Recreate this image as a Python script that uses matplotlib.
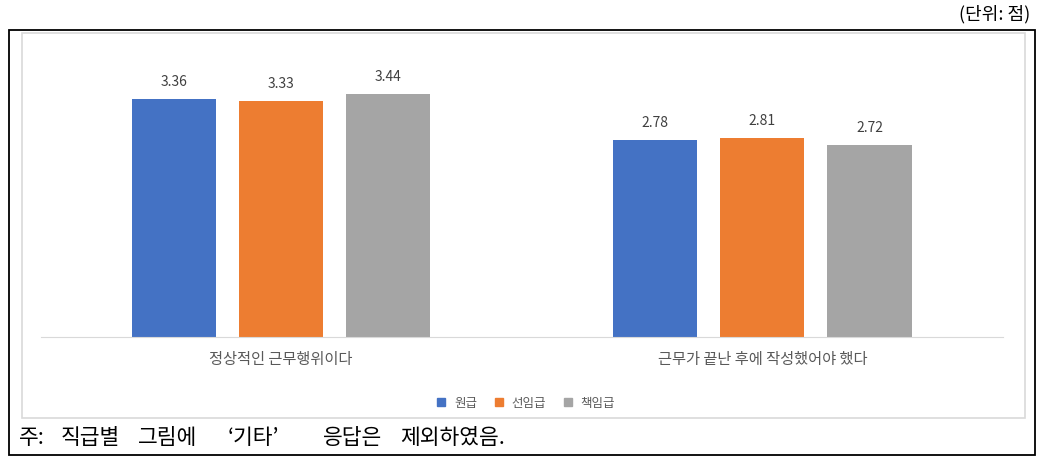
import matplotlib.pyplot as plt
from matplotlib.patches import Rectangle
from matplotlib.lines import Line2D
import numpy as np

plt.rcParams["font.family"] = ["Noto Sans CJK KR", "DejaVu Sans"]

categories = ["정상적인 근무행위이다", "근무가 끝난 후에 작성했어야 했다"]
series = ["원급", "선임급", "책임급"]
values_won = [3.36, 2.78]
values_sun = [3.33, 2.81]
values_chk = [3.44, 2.72]
colors = ["#4472C4", "#ED7D31", "#A5A5A5"]
note_words = ["주:", "직급별", "그림에", "‘기타’", "응답은", "제외하였음."]

W, H = 1041, 466


def fx(px):
    return px / W


def fy(py):
    return 1 - py / H


fig = plt.figure(figsize=(W / 100, H / 100), dpi=100)

# outer black frame and inner chart border
fig.patches.append(Rectangle((fx(9), fy(455)), fx(1035) - fx(9), fy(30) - fy(455),
                             transform=fig.transFigure, fill=False, ec="black", lw=1.3))
fig.patches.append(Rectangle((fx(22), fy(418)), fx(1025) - fx(22), fy(33) - fy(418),
                             transform=fig.transFigure, fill=False, ec="#d9d9d9", lw=1.2))

ax = fig.add_axes([fx(40.5), fy(337), fx(1003) - fx(40.5), fy(54) - fy(337)])
x = np.arange(len(categories))
step = 0.2225
width = 0.175
all_vals = [values_won, values_sun, values_chk]
for i, (name, vals, c) in enumerate(zip(series, all_vals, colors)):
    pos = x + (i - 1) * step
    ax.bar(pos, vals, width=width, color=c, label=name)
    for p, v in zip(pos, vals):
        ax.text(p, v + 0.14, f"{v:.2f}", ha="center", va="bottom",
                fontsize=10, color="#404040")

ax.set_xlim(-0.5, 1.5)
ax.set_ylim(0, 4)
for s in ["top", "right", "left"]:
    ax.spines[s].set_visible(False)
ax.spines["bottom"].set_color("#d9d9d9")
ax.set_yticks([])
ax.set_xticks(x)
ax.set_xticklabels(categories, fontsize=11, color="#595959")
ax.tick_params(axis="x", length=0, pad=10)

handles = [Line2D([], [], marker="s", ls="", color=c, markersize=5.5) for c in colors]
fig.legend(handles, series, loc="center", bbox_to_anchor=(fx(522), fy(403)), ncol=3,
           frameon=False, fontsize=9, handletextpad=0.05, columnspacing=0.7,
           labelcolor="#595959")

fig.text(fx(1030), fy(14), "(단위: 점)", ha="right", va="center", fontsize=13)

# note line: words are spread out like the original
note_x = [19, 61, 138, 228, 323, 400]
for word, px in zip(note_words, note_x):
    fig.text(fx(px), fy(438), word, ha="left", va="center", fontsize=15.5)

fig.savefig("out.png", dpi=100)
